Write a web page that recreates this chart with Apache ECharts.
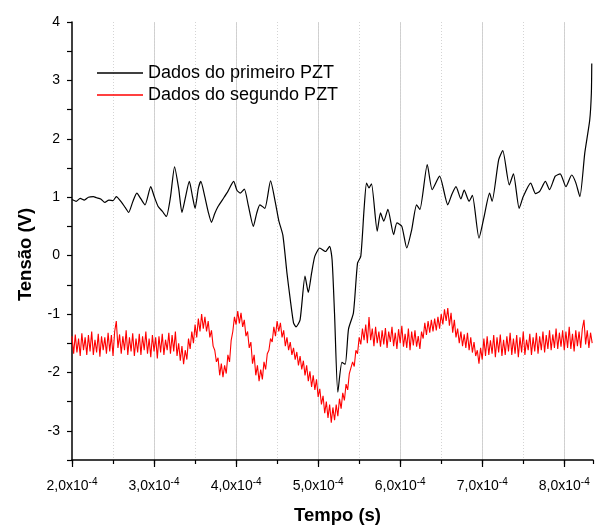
<!DOCTYPE html>
<html>
<head>
<meta charset="utf-8">
<script src="https://cdn.jsdelivr.net/npm/echarts@6/dist/echarts.min.js"></script>
<style>
  html, body { margin: 0; padding: 0; background: #fff; }
  #main { width: 595px; height: 525px; }
</style>
</head>
<body>
<div id="main"></div>
<script>
// tempo em unidades de 1e-4 s
var tempo1 = [2.00, 2.05, 2.10, 2.15, 2.20, 2.26, 2.30, 2.35, 2.40, 2.45, 2.50, 2.54, 2.60, 2.65, 2.69, 2.74, 2.79, 2.84, 2.89, 2.96,
  3.00, 3.05, 3.10, 3.15, 3.20, 3.25, 3.30, 3.34, 3.38, 3.43, 3.47, 3.50, 3.54, 3.57, 3.62, 3.66, 3.70, 3.74, 3.78, 3.85,
  3.90, 3.97, 4.01, 4.05, 4.10, 4.15, 4.21, 4.25, 4.29, 4.35, 4.42, 4.48, 4.52, 4.57, 4.62, 4.66, 4.70, 4.73, 4.78, 4.84,
  4.88, 4.92, 4.96, 5.02, 5.09, 5.14, 5.17, 5.20, 5.24, 5.29, 5.33, 5.37, 5.43, 5.48, 5.52, 5.56, 5.59, 5.62, 5.65, 5.72,
  5.76, 5.80, 5.85, 5.92, 5.96, 6.02, 6.08, 6.14, 6.20, 6.24, 6.33, 6.39, 6.48, 6.58, 6.63, 6.68, 6.74, 6.78, 6.84, 6.88,
  6.96, 7.02, 7.09, 7.12, 7.20, 7.25, 7.33, 7.38, 7.45, 7.50, 7.59, 7.65, 7.70, 7.77, 7.82, 7.89, 7.95, 8.02, 8.09, 8.14,
  8.19, 8.25, 8.31, 8.33, 8.335];
var tensao1 = [0.96, 0.93, 0.98, 0.95, 1.00, 1.01, 0.99, 0.97, 0.91, 0.95, 0.94, 1.01, 0.92, 0.82, 0.74, 0.92, 1.07, 0.97, 0.87, 1.18,
  1.02, 0.84, 0.76, 0.67, 1.00, 1.52, 1.15, 0.74, 0.98, 1.27, 1.00, 0.81, 1.15, 1.27, 1.00, 0.75, 0.57, 0.72, 0.84, 0.99,
  1.10, 1.27, 1.12, 1.07, 1.14, 0.85, 0.50, 0.72, 0.87, 0.81, 1.28, 0.90, 0.60, 0.35, -0.30, -0.75, -1.15, -1.22, -1.10, -0.35,
  -0.63, -0.30, -0.01, 0.13, 0.07, 0.16, -0.07, -1.00, -2.34, -1.83, -1.86, -1.26, -0.98, -0.13, -0.01, 0.80, 1.24, 1.16, 1.23, 0.42,
  0.73, 0.59, 0.79, 0.36, 0.56, 0.50, 0.13, 0.44, 0.87, 0.79, 1.56, 1.13, 1.36, 0.87, 1.05, 1.18, 0.97, 1.12, 0.93, 1.03,
  0.30, 0.65, 1.07, 0.93, 1.64, 1.80, 1.21, 1.40, 0.81, 1.01, 1.24, 1.06, 1.10, 1.27, 1.13, 1.36, 1.40, 1.18, 1.38, 1.25,
  1.01, 1.76, 2.32, 2.78, 3.29];

// segundo PZT: amostras a cada 0.02e-4 s a partir de 2.0e-4 s
var tempo2Inicio = 2.0;
var tempo2Passo = 0.02;
var tensao2 = [
  -1.38, -1.68, -1.35, -1.66, -1.42, -1.72, -1.33, -1.62, -1.40, -1.70,
  -1.36, -1.64, -1.30, -1.70, -1.44, -1.66, -1.34, -1.73, -1.38, -1.62,
  -1.40, -1.68, -1.32, -1.64, -1.36, -1.72, -1.30, -1.12, -1.58, -1.35,
  -1.68, -1.38, -1.62, -1.28, -1.70, -1.40, -1.64, -1.33, -1.72, -1.42,
  -1.66, -1.34, -1.70, -1.38, -1.62, -1.30, -1.68, -1.42, -1.74, -1.36,
  -1.64, -1.40, -1.76, -1.38, -1.66, -1.34, -1.70, -1.44, -1.62, -1.32,
  -1.68, -1.36, -1.64, -1.30, -1.72, -1.50, -1.80, -1.55, -1.86, -1.62,
  -1.78, -1.42, -1.60, -1.30, -1.50, -1.18, -1.40, -1.08, -1.30, -1.00,
  -1.25, -1.05, -1.30, -1.12, -1.40, -1.28, -1.55, -1.62, -1.82, -1.75,
  -2.05, -1.85, -2.08, -1.88, -2.02, -1.70, -1.82, -1.45, -1.30, -1.05,
  -1.18, -0.95, -1.16, -0.98, -1.22, -1.10, -1.38, -1.30, -1.58, -1.48,
  -1.85, -1.70, -2.05, -1.88, -2.15, -1.95, -2.12, -1.82, -1.95, -1.68,
  -1.62, -1.42, -1.48, -1.22, -1.38, -1.12, -1.30, -1.15, -1.40, -1.28,
  -1.55, -1.40, -1.62, -1.48, -1.70, -1.58, -1.78, -1.65, -1.88, -1.72,
  -1.95, -1.80, -2.05, -1.88, -2.15, -1.98, -2.25, -2.05, -2.30, -2.12,
  -2.42, -2.28, -2.55, -2.40, -2.70, -2.50, -2.78, -2.55, -2.86, -2.60,
  -2.82, -2.55, -2.75, -2.45, -2.62, -2.35, -2.48, -2.20, -2.30, -2.02,
  -2.05, -1.82, -1.90, -1.62, -1.68, -1.40, -1.52, -1.25, -1.45, -1.18,
  -1.50, -1.05, -1.45, -1.25, -1.55, -1.22, -1.50, -1.30, -1.56, -1.28,
  -1.52, -1.24, -1.58, -1.30, -1.48, -1.22, -1.55, -1.32, -1.60, -1.26,
  -1.50, -1.20, -1.56, -1.34, -1.58, -1.25, -1.62, -1.30, -1.54, -1.28,
  -1.56, -1.38, -1.60, -1.30, -1.42, -1.15, -1.36, -1.12, -1.32, -1.10,
  -1.30, -1.08, -1.28, -1.05, -1.25, -1.00, -1.18, -0.92, -1.12, -0.90,
  -1.20, -0.98, -1.32, -1.10, -1.40, -1.25, -1.50, -1.30, -1.55, -1.35,
  -1.58, -1.32, -1.62, -1.40, -1.66, -1.48, -1.72, -1.62, -1.85, -1.58,
  -1.78, -1.42, -1.72, -1.38, -1.70, -1.45, -1.68, -1.36, -1.74, -1.40,
  -1.66, -1.35, -1.72, -1.44, -1.70, -1.38, -1.64, -1.32, -1.70, -1.42,
  -1.68, -1.36, -1.74, -1.40, -1.66, -1.30, -1.70, -1.44, -1.62, -1.34,
  -1.70, -1.40, -1.64, -1.32, -1.68, -1.38, -1.62, -1.30, -1.66, -1.36,
  -1.60, -1.28, -1.62, -1.35, -1.58, -1.25, -1.60, -1.32, -1.56, -1.28,
  -1.62, -1.30, -1.58, -1.22, -1.60, -1.34, -1.64, -1.28, -1.55, -1.30,
  -1.58, -1.25, -1.10, -1.52, -1.28, -1.58, -1.32, -1.50
];

var nomes = ['Dados do primeiro PZT', 'Dados do segundo PZT'];

var dados1 = tempo1.map(function (t, i) { return [t, tensao1[i]]; });
var dados2 = tensao2.map(function (v, i) { return [tempo2Inicio + i * tempo2Passo, v]; });

var fonte = 'Liberation Sans, Arial, sans-serif';

var myChart = echarts.init(document.getElementById('main'));

var option = {
  animation: false,
  backgroundColor: '#fff',
  textStyle: { fontFamily: fonte },
  grid: { left: 72, right: 2, top: 22, bottom: 65, containLabel: false, outerBoundsMode: 'none' },
  legend: {
    data: nomes,
    orient: 'vertical',
    left: 92,
    top: 59,
    icon: 'rect',
    itemWidth: 46,
    itemHeight: 1.5,
    itemGap: 4,
    textStyle: { fontSize: 18, color: '#000', fontFamily: fonte }
  },
  xAxis: [{
    type: 'value',
    min: 2,
    max: 8.35,
    interval: 1,
    name: 'Tempo (s)',
    nameLocation: 'middle',
    nameGap: 46,
    nameTextStyle: { fontSize: 18.5, fontWeight: 'bold', color: '#000', padding: [0, 0, 0, 10] },
    axisLine: { onZero: false, lineStyle: { color: '#000', width: 1.5 } },
    axisTick: { length: 7, inside: false, lineStyle: { color: '#000', width: 1.2 } },
    axisLabel: {
      margin: 17,
      showMaxLabel: false,
      formatter: function (v) {
        return '{a|' + v.toFixed(1).replace('.', ',') + 'x10}{b|-4}';
      },
      rich: {
        a: { fontSize: 14, color: '#000', fontFamily: fonte },
        b: { fontSize: 10, color: '#000', fontFamily: fonte, padding: [0, 0, 8, 0] }
      }
    },
    splitLine: { show: true, showMinLine: false, showMaxLine: false, lineStyle: { color: '#cfcfcf', width: 1 } }
  }, {
    type: 'value',
    position: 'bottom',
    min: 2,
    max: 8.35,
    interval: 0.5,
    axisLine: { show: false, onZero: false },
    axisLabel: { show: false },
    axisTick: { length: 4, lineStyle: { color: '#000', width: 1.2 } },
    splitLine: { show: true, showMinLine: false, showMaxLine: false, lineStyle: { color: '#d4d4d4', width: 1, type: [1, 2] } }
  }],
  yAxis: {
    type: 'value',
    min: -3.5,
    max: 4,
    interval: 0.5,
    name: 'Tensão (V)',
    nameLocation: 'middle',
    nameGap: 37,
    nameTextStyle: { fontSize: 18.5, fontWeight: 'bold', color: '#000', padding: [0, 27, 0, 0] },
    axisLine: { show: true, onZero: false, lineStyle: { color: '#000', width: 1.5 } },
    axisTick: { show: true, length: 5, lineStyle: { color: '#000', width: 1.2 } },
    axisLabel: {
      margin: 12,
      fontSize: 14,
      color: '#000',
      formatter: function (v) { return Number.isInteger(v) ? String(v) : ''; }
    },
    splitLine: { show: false }
  },
  series: [{
    name: nomes[0],
    type: 'line',
    xAxisIndex: 0,
    data: dados1,
    showSymbol: false,
    symbol: 'none',
    smooth: 0.2,
    z: 3,
    lineStyle: { color: '#000', width: 1.2 },
    itemStyle: { color: '#000' }
  }, {
    name: nomes[1],
    type: 'line',
    xAxisIndex: 0,
    data: dados2,
    showSymbol: false,
    symbol: 'none',
    z: 2,
    lineStyle: { color: '#ff0000', width: 1.1 },
    itemStyle: { color: '#ff0000' }
  }]
};

myChart.setOption(option);
</script>
</body>
</html>
